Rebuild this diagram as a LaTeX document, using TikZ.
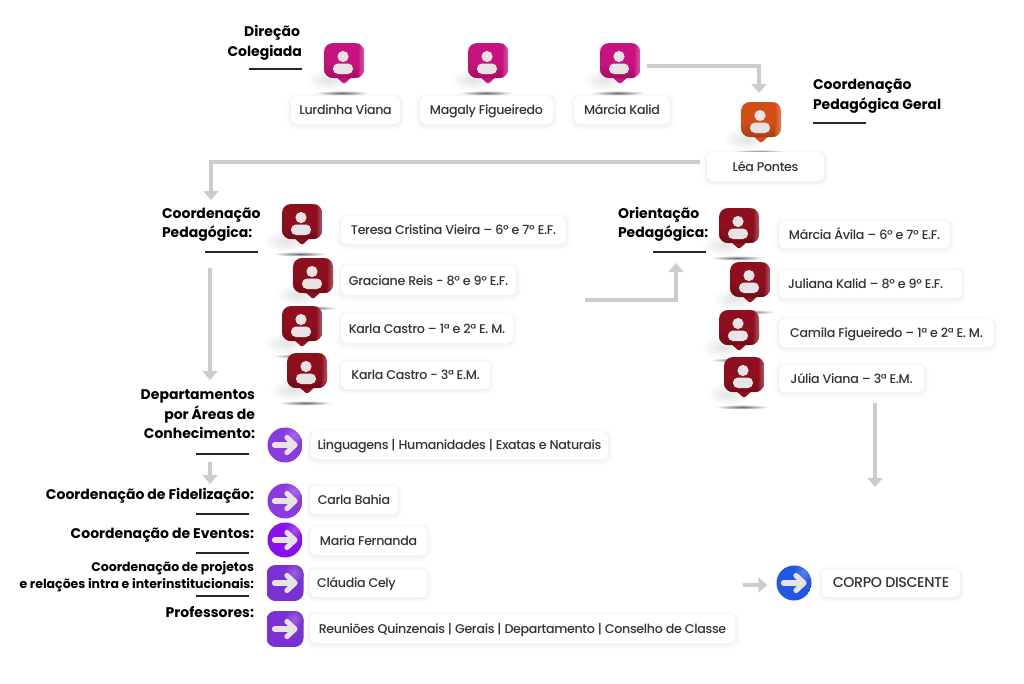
\documentclass[tikz,border=0pt]{standalone}
\usepackage{fontspec}
\setmainfont{Poppins}
\newfontfamily\tagfont[LetterSpace=-2.6]{Poppins Medium}
\usetikzlibrary{arrows.meta,calc}
\definecolor{cpink}{HTML}{C8127F}
\definecolor{corange}{HTML}{D24E17}
\definecolor{cred}{HTML}{8E0F1E}
\definecolor{cpurple}{HTML}{8A3BE0}
\definecolor{cviolet}{HTML}{8A10EE}
\definecolor{csquare}{HTML}{7A30D2}
\definecolor{cblue}{HTML}{2358E2}
\definecolor{cflow}{HTML}{CCCCCC}
\definecolor{cglyph}{HTML}{E6E4E4}
\definecolor{ctext}{HTML}{333333}
\tikzset{
  x=1pt,y=-1pt,
  flow/.style={draw=cflow,line width=3.6pt,-{Triangle[width=15pt,length=9pt]}},
  headrule/.style={draw=black!85,line width=1.3pt},
  headtext/.style={font=\fontsize{14}{19.5}\selectfont\bfseries,text=black,inner sep=0pt,outer sep=0pt},
  tagbox/.style={fill=white,rounded corners=6pt,inner sep=0pt,text=ctext,
    font=\tagfont\fontsize{12.65}{16}\selectfont,text height=12pt,text depth=3pt,
    preaction={draw=black,draw opacity=.012,line width=10pt,transform canvas={yshift=-1.5pt}},
    preaction={draw=black,draw opacity=.015,line width=6pt,transform canvas={yshift=-1.5pt}},
    preaction={draw=black,draw opacity=.02,line width=3pt,transform canvas={yshift=-1pt}}},
  iconspot/.style={inner sep=0pt,minimum width=40pt,minimum height=36pt},
  roundspot/.style={inner sep=0pt,minimum size=35pt,circle},
  glyph/.style={draw=cglyph,line width=5.2pt,line cap=round,line join=round}
}
% name, left x, top y, right x, bottom y, text
\newcommand{\tagat}[6]{%
  \pgfmathsetmacro{\tcx}{(#2+#4)/2}\pgfmathsetmacro{\tcy}{(#3+#5)/2}%
  \pgfmathsetmacro{\tw}{#4-#2}\pgfmathsetmacro{\th}{#5-#3}%
  \node[tagbox,minimum width=\tw pt,minimum height=\th pt] (#1) at (\tcx,\tcy) {#6};}
% name, centre x, top y, colour
\newcommand{\pinicon}[4]{%
  \begin{scope}[shift={(#2,#3)}]
    \shade[inner color=black!11,outer color=white] (-16,37) ellipse (22 and 11);
    \shade[inner color=black!58,outer color=white] (-2,50) ellipse (27 and 2.4);
    \fill[#4,rounded corners=1.5pt] (-9,33) -- (0,41) -- (9,33) -- cycle;
    \begin{scope}
      \clip[rounded corners=9pt] (-20,0) rectangle (20,35);
      \fill[#4] (-20,0) rectangle (20,35);
      \shade[top color=#4,bottom color=#4!80!black] (-20,20) rectangle (20,35);
      \shade[left color=#4,right color=#4!70!white] (14,0) rectangle (20,35);
    \end{scope}
    \fill[cglyph] (-1,13.5) circle (5.6);
    \fill[cglyph,rounded corners=5pt] (-11,20.5) rectangle (9,31);
    \node[iconspot] (#1) at (0,18) {};
  \end{scope}}
% name, centre x, centre y, colour
\newcommand{\roundicon}[4]{%
  \begin{scope}
    \clip (#2,#3) circle (17.5);
    \fill[#4] (#2,#3) circle (17.5);
    \shade[inner color=#4!75!white,outer color=#4] (#2+9,#3-10) circle (10);
  \end{scope}
  \node[roundspot] (#1) at (#2,#3) {};
  \arrowglyph{#2}{#3}}
\newcommand{\squareicon}[4]{%
  \begin{scope}
    \clip[rounded corners=9pt] (#2-18.5,#3-18) rectangle (#2+18.5,#3+18);
    \fill[#4] (#2-18.5,#3-18) rectangle (#2+18.5,#3+18);
    \shade[inner color=#4!75!white,outer color=#4] (#2+9,#3-10) circle (10);
  \end{scope}
  \node[roundspot] (#1) at (#2,#3) {};
  \arrowglyph{#2}{#3}}
\newcommand{\arrowglyph}[2]{%
  \draw[glyph] (#1-10.5,#2) -- (#1+9.5,#2);
  \draw[glyph] (#1+2,#2-7.5) -- (#1+10,#2) -- (#1+2,#2+7.5);}
\begin{document}
\begin{tikzpicture}
\useasboundingbox (0,0) rectangle (1024,683);
\fill[white] (0,0) rectangle (1024,683);

% icons: direction
\pinicon{pinLurdinha}{344}{43}{cpink}
\pinicon{pinMagaly}{488}{43}{cpink}
\pinicon{pinMarcia}{620}{43}{cpink}
\pinicon{pinLea}{761}{102}{corange}
% icons: coordination
\pinicon{pinTeresa}{302}{204}{cred}
\pinicon{pinGraciane}{313}{258}{cred}
\pinicon{pinKarlaA}{302}{306}{cred}
\pinicon{pinKarlaB}{307}{353}{cred}
% icons: orientation
\pinicon{pinAvila}{739}{208}{cred}
\pinicon{pinJuliana}{750}{262}{cred}
\pinicon{pinCamila}{739}{310}{cred}
\pinicon{pinJulia}{744}{357}{cred}

% tags
\tagat{tLurdinha}{291}{96}{400}{124}{Lurdinha Viana}
\tagat{tMagaly}{420}{96}{553}{124}{Magaly Figueiredo}
\tagat{tMarcia}{574}{96}{670}{124}{Márcia Kalid}
\tagat{tLea}{707}{152}{824}{181}{Léa Pontes}
\tagat{tTeresa}{341}{216}{566}{244}{Teresa Cristina Vieira – 6º e 7º E.F.}
\tagat{tGraciane}{341}{266}{516}{295}{Graciane Reis - 8º e 9º E.F.}
\tagat{tKarlaA}{341}{314}{513}{343}{Karla Castro – 1ª e 2ª E. M.}
\tagat{tKarlaB}{341}{361}{490}{389}{Karla Castro - 3ª E.M.}
\tagat{tAvila}{779}{221}{950}{248}{Márcia Ávila – 6º e 7º E.F.}
\tagat{tJuliana}{779}{270}{962}{298}{Juliana Kalid – 8º e 9º E.F.\hbox{\kern10pt}}
\tagat{tCamila}{779}{319}{994}{347}{Camila Figueiredo – 1ª e 2ª E. M.}
\tagat{tJulia}{779}{365}{924}{392}{Júlia Viana – 3ª E.M.}
\tagat{tLing}{311}{431}{608}{459}{Linguagens | Humanidades | Exatas e Naturais}
\tagat{tCarla}{310}{486}{398}{514}{Carla Bahia}
\tagat{tMaria}{310}{527}{427}{555}{Maria Fernanda}
\tagat{tClaudia}{310}{569}{427}{597}{Cláudia Cely\hbox{\kern24pt}}
\tagat{tReun}{310}{614}{735}{643}{Reuniões Quinzenais | Gerais | Departamento | Conselho de Classe}
\tagat{tCorpo}{822}{569}{960}{597}{\fontsize{14.2}{16}\selectfont CORPO DISCENTE}

% arrow icons
\roundicon{iLing}{285}{445}{cpurple}
\roundicon{iCarla}{285}{501}{cpurple}
\roundicon{iMaria}{285}{540}{cviolet}
\squareicon{iClaudia}{285}{583}{csquare}
\squareicon{iReun}{285}{629}{csquare}
\roundicon{iCorpo}{794}{583}{cblue}

% headings
\node[headtext,align=right,anchor=east] (hDirecao) at (302,43) {Direção\hbox{\kern2pt}\\Colegiada};
\node[headtext,align=left,anchor=west] (hGeral) at (813,96) {Coordenação\\Pedagógica Geral};
\node[headtext,align=left,anchor=west] (hCoord) at (162,224.5) {Coordenação\\Pedagógica:};
\node[headtext,align=left,anchor=west] (hOrient) at (618,224.5) {Orientação\\Pedagógica:};
\node[headtext,align=right,anchor=east] (hDept) at (255,414.5) {Departamentos\\por Áreas de\\Conhecimento:};
\node[headtext,anchor=east] (hFid) at (254,496) {Coordenação de Fidelização:};
\node[headtext,anchor=east] (hEv) at (254,535) {Coordenação de Eventos:};
\node[headtext,align=right,anchor=east,font=\fontsize{12.5}{17}\selectfont\bfseries] (hProj) at (254,576.5) {Coordenação de projetos\\e relações intra e interinstitucionais:};
\node[headtext,anchor=east] (hProf) at (254,612.5) {Professores:};

% heading rules
\coordinate (ruleDirL) at (249,69); \coordinate (ruleDirR) at (302,69);
\coordinate (ruleGerL) at (813,123); \coordinate (ruleGerR) at (866,123);
\coordinate (ruleCooL) at (205,252); \coordinate (ruleCooR) at (258,252);
\coordinate (ruleOriL) at (653,252); \coordinate (ruleOriR) at (706,252);
\coordinate (ruleDepL) at (196,454); \coordinate (ruleDepR) at (249,454);
\coordinate (ruleFidL) at (196,514); \coordinate (ruleFidR) at (249,514);
\coordinate (ruleEvL) at (196,553); \coordinate (ruleEvR) at (249,553);
\coordinate (ruleProL) at (196,596); \coordinate (ruleProR) at (249,596);
\foreach \r in {Dir,Ger,Coo,Ori,Dep,Fid,Ev,Pro}
  \draw[headrule] (rule\r L) -- (rule\r R);

% connectors
\coordinate (fromMarcia) at (647,66);
\coordinate (toLea) at (759,93);
\draw[flow] (fromMarcia) -| (toLea);
\coordinate (fromLea) at (700,162);
\coordinate (toCoord) at (211,200);
\draw[flow] (fromLea) -| (toCoord);
\coordinate (fromCoord) at (210,268);
\coordinate (toDept) at (210,380);
\draw[flow] (fromCoord) -- (toDept);
\coordinate (fromDept) at (210,462);
\coordinate (toFid) at (210,484);
\draw[flow] (fromDept) -- (toFid);
\coordinate (fromTeam) at (585,300);
\coordinate (toOrient) at (676,263);
\draw[flow] (fromTeam) -| (toOrient);
\coordinate (fromOrient) at (875,403);
\coordinate (toBelow) at (875,487);
\draw[flow] (fromOrient) -- (toBelow);
\coordinate (fromSide) at (743,585);
\draw[flow,shorten >=9pt] (fromSide) -- (fromSide -| iCorpo.west);
\end{tikzpicture}
\end{document}
